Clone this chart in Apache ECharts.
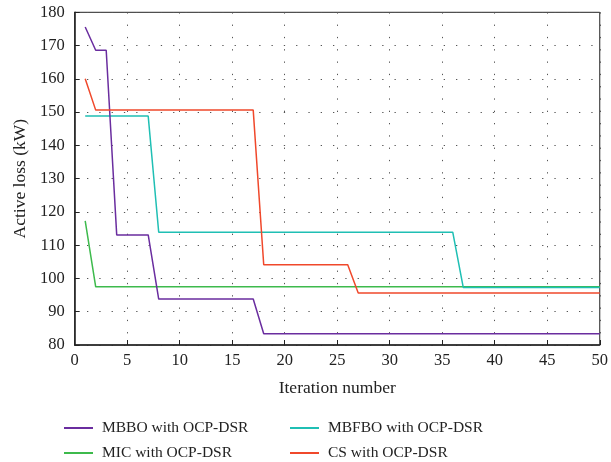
<!DOCTYPE html>
<html><head><meta charset="utf-8">
<script src="https://cdn.jsdelivr.net/npm/echarts@6/dist/echarts.min.js"></script>
<style>html,body{margin:0;padding:0;background:#fff}#c{width:611px;height:462px}</style>
</head><body><div id="c"></div>
<script>
// Breakpoints (iteration, active loss kW)
var mbboX = [1, 2, 3, 4, 7, 8, 17, 18, 50];
var mbboY = [175.6, 168.6, 168.6, 113.1, 113.1, 93.8, 93.8, 83.4, 83.4];
var micX = [1, 2, 50];
var micY = [117.3, 97.5, 97.5];
var mbfboX = [1, 7, 8, 36, 37, 50];
var mbfboY = [148.8, 148.8, 113.9, 113.9, 97.3, 97.3];
var csX = [1, 2, 17, 18, 26, 27, 50];
var csY = [160.0, 150.6, 150.6, 104.1, 104.1, 95.6, 95.6];
var names = ['MBBO with OCP-DSR', 'MIC with OCP-DSR', 'MBFBO with OCP-DSR', 'CS with OCP-DSR'];
var colors = ['#6a2d9f', '#3dba4c', '#1fbfb4', '#f0482b'];
var xTicks = [0, 50, 5];
var yTicks = [80, 180, 10];

function pairs(xs, ys) { return xs.map(function (x, i) { return [x, ys[i]]; }); }
var font = '"Liberation Serif", "DejaVu Serif", serif';
var chart = echarts.init(document.getElementById('c'), null, { renderer: 'canvas' });
var dataSets = [pairs(mbboX, mbboY), pairs(micX, micY), pairs(mbfboX, mbfboY), pairs(csX, csY)];
var series = dataSets.map(function (d, i) {
  return {
    name: names[i], type: 'line', data: d, symbol: 'none', animation: false,
    lineStyle: { color: colors[i], width: 1.5 }, itemStyle: { color: colors[i] },
    z: [4, 2, 3, 5][i]
  };
});
var legendCommon = {
  orient: 'vertical', icon: 'rect', itemWidth: 29, itemHeight: 2, itemGap: 9,
  textStyle: { fontFamily: font, fontSize: 15.5, color: '#222', lineHeight: 16, padding: [0, 0, 0, 4] },
  top: 420, padding: 0
};
chart.setOption({
  animation: false,
  grid: { left: 74.7, right: 8.5, top: 12.3, bottom: 117, show: true, borderColor: '#222', borderWidth: 1, containLabel: false },
  legend: [
    Object.assign({}, legendCommon, { left: 64, data: [names[0], names[1]] }),
    Object.assign({}, legendCommon, { left: 290, data: [names[2], names[3]] })
  ],
  xAxis: {
    type: 'value', min: xTicks[0], max: xTicks[1], interval: xTicks[2],
    name: 'Iteration number', nameLocation: 'middle', nameGap: 34,
    nameTextStyle: { fontFamily: font, fontSize: 17.5, color: '#222' },
    axisLine: { lineStyle: { color: '#222', width: 1.5 } },
    axisTick: { inside: true, length: 5, lineStyle: { color: '#222' } },
    axisLabel: { fontFamily: font, fontSize: 16.5, color: '#222', margin: 7 },
    splitLine: { show: true, lineStyle: { color: '#555', type: [1.3, 11], width: 1 } }
  },
  yAxis: {
    type: 'value', min: yTicks[0], max: yTicks[1], interval: yTicks[2],
    name: 'Active loss (kW)', nameLocation: 'middle', nameGap: 44,
    nameTextStyle: { fontFamily: font, fontSize: 17.5, color: '#222' },
    axisLine: { show: true, lineStyle: { color: '#222', width: 1.5 } },
    axisTick: { show: true, inside: true, length: 5, lineStyle: { color: '#222' } },
    axisLabel: { fontFamily: font, fontSize: 16.5, color: '#222', margin: 10 },
    splitLine: { show: true, lineStyle: { color: '#555', type: [1.3, 11], width: 1 } }
  },
  series: series
});
</script></body></html>
